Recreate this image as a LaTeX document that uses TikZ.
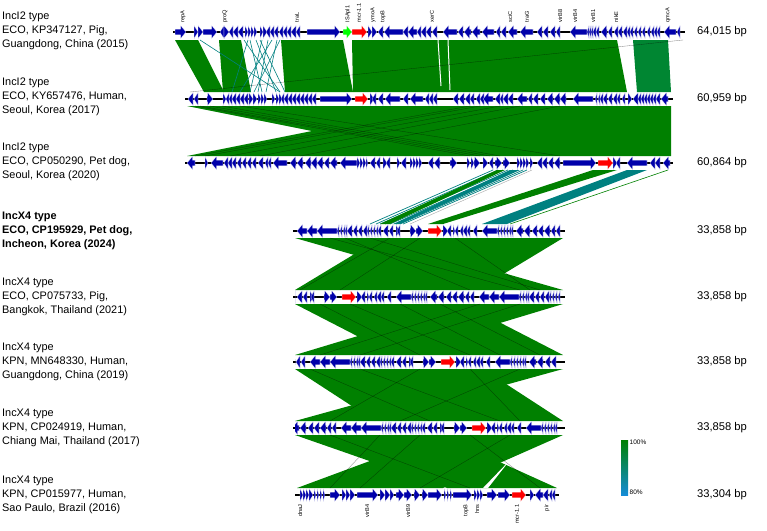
\documentclass[tikz,border=0pt]{standalone}
\usepackage{fontspec}
\setmainfont{Liberation Sans}
\usepackage{tikz}
\usetikzlibrary{positioning}
\definecolor{genecol}{RGB}{0,0,170}
\definecolor{mcrcol}{RGB}{255,0,0}
\definecolor{iscol}{RGB}{0,255,0}
\definecolor{hitgreen}{RGB}{0,128,0}
\definecolor{hitgreenb}{RGB}{0,134,50}
\definecolor{hitteal}{RGB}{0,128,128}
\definecolor{lowblue}{RGB}{20,140,215}

% one gene arrow: from, to, track y, colour
\newcommand{\gene}[4]{%
  \pgfmathsetmacro{\ghd}{sign((#2)-(#1))*min(5.5,abs((#2)-(#1)))}%
  \pgfmathsetmacro{\gnk}{(#2)-\ghd}%
  \fill[#4, draw=white, line width=0.15pt] (#1,#3-2.8) -- (\gnk,#3-2.8) -- (\gnk,#3-6.5)
    -- (#2,#3) -- (\gnk,#3+6.5) -- (\gnk,#3+2.8) -- (#1,#3+2.8) -- cycle;}

% IncX4 backbone, genes relative to the start of the track
\def\xfour{12/2, 22/12, 42/22, 44/42, 47/45, 50/48, 52/50, 57/52, 62/58, 67/63, 72/68,
  74/72, 77/75, 80/78, 83/81, 86/83, 93/88, 98/94, 101/104, 105/102, 115/121, 121/128,
  148/153, 156/152, 158/160, 163/160, 168/165, 172/168, 175/172, 182/178, 202/187,
  204/202, 207/205, 210/208, 213/211, 216/214, 218/216, 228/221, 235/229, 242/237,
  248/243, 255/249, 260/256, 265/261}

% IncX4 track: y, rotation
\newcommand{\xtrack}[2]{%
  \draw[backbone] (293,#1) -- (565,#1);
  \begin{scope}
    \clip (295,#1-8) rectangle (563,#1+8);
    \foreach \a/\b in \xfour {
      \pgfmathsetmacro{\sa}{mod(\a+#2,268)+295}
      \pgfmathsetmacro{\sb}{\sa+\b-\a}
      \pgfmathsetmacro{\sc}{\sa-268}
      \pgfmathsetmacro{\sd}{\sb-268}
      \gene{\sa}{\sb}{#1}{genecol}
      \gene{\sc}{\sd}{#1}{genecol}
    }
    \pgfmathsetmacro{\ra}{mod(133+#2,268)+295}
    \pgfmathsetmacro{\rb}{\ra+14}
    \gene{\ra}{\rb}{#1}{mcrcol}
  \end{scope}}

% rotated match between two IncX4 tracks: top y, bottom y, offset
\newcommand{\xhit}[3]{%
  \fill[hitgreen] (295,#1) -- ({563-#3},#1) -- (563,#2) -- ({295+#3},#2) -- cycle;
  \fill[hitgreen] ({563-#3},#1) -- (563,#1) -- ({295+#3},#2) -- (295,#2) -- cycle;}

\def\trackA{175/186, 194/198, 198/203, 203/217, 224/220, 224/229, 233/229, 238/233,
  243/238, 245/248, 248/251, 251/254, 254/257, 260/263, 263/267, 270/266, 274/270,
  278/274, 283/279, 287/283, 291/287, 296/291, 300/296, 307/340, 368/372, 372/377,
  383/378, 403/384, 408/403, 417/408, 421/417, 426/421, 431/426, 437/432, 457/443,
  463/458, 471/464, 480/472, 494/482, 500/496, 506/501, 517/508, 533/520, 542/537,
  548/543, 555/550, 560/556, 587/570, 589/587, 591/589, 593/591, 596/593, 599/596,
  607/601, 612/608, 618/614, 622/618, 627/623, 630/627, 633/630, 637/634, 641/638,
  645/642, 650/647, 654/651, 657/654, 660/657, 676/664, 680/677}
\def\trackB{193/188, 198/194, 207/213, 223/226, 229/226, 232/229, 236/232, 240/236,
  244/240, 248/244, 249/253, 253/257, 258/261, 261/264, 264/267, 272/275, 276/279,
  279/282, 284/281, 288/284, 292/288, 296/292, 300/296, 304/300, 308/304, 312/308,
  316/312, 320/352, 370/374, 376/372, 383/378, 400/385, 408/403, 423/410, 429/425,
  433/429, 437/433, 458/453, 464/459, 470/465, 474/470, 480/476, 484/480, 493/483,
  500/495, 503/500, 508/503, 513/508, 527/517, 532/528, 538/533, 545/540, 553/547,
  560/554, 566/560, 593/573, 597/595, 600/598, 603/600, 607/603, 612/608, 617/613,
  620/617, 625/622, 628/632, 638/633, 641/638, 644/641, 647/644, 650/647, 653/650,
  656/653, 660/656, 668/661}
\def\trackC{195/187, 205/208, 223/211, 228/224, 232/228, 236/232, 241/237, 246/242,
  251/247, 256/252, 263/258, 268/265, 271/268, 287/273, 296/290, 303/297, 311/305,
  317/311, 323/317, 329/324, 337/330, 357/340, 357/360, 360/363, 363/366, 366/368,
  375/370, 380/376, 383/387, 390/386, 397/400, 406/401, 410/413, 413/416, 416/419,
  419/422, 433/428, 440/434, 450/457, 467/470, 471/474, 474/480, 483/488, 493/489,
  495/502, 503/510, 517/520, 520/523, 523/526, 526/529, 530/533, 542/537, 547/542,
  553/548, 560/554, 563/596, 613/617, 620/616, 647/627, 655/650, 660/655, 670/663}
\def\trackH{300/303, 303/306, 306/309, 309/313, 314/316, 317/319, 320/322, 323/325,
  330/340, 342/346, 346/350, 350/355, 357/378, 380/385, 385/390, 390/394, 396/404,
  404/412, 414/420, 422/428, 428/442, 444/446, 447/449, 450/452, 453/472, 474/477,
  477/480, 480/483, 487/497, 498/510, 530/534, 543/535, 548/543, 552/549, 555/552}

\begin{document}
\begin{tikzpicture}[x=1pt, y=-1pt,
    strain/.style={anchor=west, align=left, inner sep=0pt,
                   font=\fontsize{10.9}{14}\selectfont},
    strainbold/.style={strain, font=\fontsize{10.9}{14}\selectfont\bfseries},
    size/.style={inner sep=0pt, font=\fontsize{11.2}{12}\selectfont},
    genelabel/.style={rotate=90, inner sep=0.6pt, font=\fontsize{5.6}{6}\selectfont},
    legendlabel/.style={anchor=west, inner sep=0.5pt, font=\fontsize{6.5}{7}\selectfont},
    backbone/.style={line width=1.3pt, black},
    darkline/.style={black, opacity=0.45, line width=0.35pt}
]
    \useasboundingbox (0,0) rectangle (767,530);

    % matches between neighbouring plasmids
    \fill[hitgreen] (175,40) -- (198,40) -- (224,92) -- (204,92) -- cycle;
    \fill[hitgreen] (219,40) -- (241,40) -- (251,92) -- (223,92) -- cycle;
    \fill[hitgreen] (281,40) -- (343,40) -- (353,92) -- (285,92) -- cycle;
    \fill[hitgreen] (352,40) -- (617,40) -- (627,92) -- (353,92) -- cycle;
    \fill[hitgreenb] (633,40) -- (668,40) -- (671,92) -- (637,92) -- cycle;
    \draw[white, line width=1pt] (438,40) -- (441,86);
    \draw[white, line width=1pt] (448,40) -- (450,90);
    \foreach \a/\b in {244/280, 250/262, 256/276, 262/250, 268/258, 272/240, 277/266,
                       280/254, 248/232, 260/285, 200/280}
        \draw[hitteal, line width=0.6pt] (\a,40) -- (\b,92);
    \draw[darkline] (683,40) -- (190,92);

    \fill[hitgreen] (187,106) -- (671,106) -- (671,156) -- (187,156) -- (312,131) -- cycle;
    \foreach \a/\b in {195/470, 200/480, 210/490, 222/500, 240/560, 480/205, 470/195,
                       500/230, 520/260, 560/300}
        \draw[darkline] (\a,106) -- (\b,156);

    \foreach \a/\b in {493/370, 498/376, 503/380, 508/385, 513/390, 518/396, 523/400, 527/403}
        \draw[hitteal, line width=0.7pt] (\a,170) -- (\b,224);
    \fill[hitgreen] (497,170) -- (505,170) -- (390,224) -- (380,224) -- cycle;
    \fill[hitteal] (510,170) -- (520,170) -- (400,224) -- (393,224) -- cycle;
    \draw[black!35, line width=0.4pt] (532,170) -- (410,224);
    \fill[hitgreen] (593,170) -- (617,170) -- (443,224) -- (428,224) -- cycle;
    \fill[hitteal] (627,170) -- (647,170) -- (507,224) -- (482,224) -- cycle;
    \draw[hitgreen, line width=0.6pt] (668,170) -- (510,224);

    \xhit{238}{290}{182}
    \foreach \a/\b in {330/520, 345/470, 390/300, 420/340, 455/530, 370/540}
        \draw[darkline] (\a,238) -- (\b,290);
    \xhit{304}{355}{99}
    \foreach \a/\b in {320/420, 350/470, 400/500, 480/320, 520/360, 440/540}
        \draw[darkline] (\a,304) -- (\b,355);
    \xhit{369}{421}{80}
    \foreach \a/\b in {310/430, 360/500, 420/330, 470/520, 520/400}
        \draw[darkline] (\a,369) -- (\b,421);
    \fill[hitgreen] (440,435) -- (563,435) -- (443,488) -- (297,488) -- cycle;
    \fill[hitgreen] (295,435) -- (440,435) -- (557,488) -- (447,488) -- cycle;
    \fill[white] (483,488) -- (488,488) -- (510,460) -- cycle;
    \foreach \a/\b in {380/330, 420/360, 330/470, 470/540, 510/420}
        \draw[darkline] (\a,435) -- (\b,488);

    % plasmid tracks
    \draw[backbone] (173,32) -- (685,32);
    \foreach \a/\b in \trackA \gene{\a}{\b}{32}{genecol};
    \gene{343}{352}{32}{iscol}
    \gene{352}{367}{32}{mcrcol}

    \draw[backbone] (185,99) -- (673,99);
    \foreach \a/\b in \trackB \gene{\a}{\b}{99}{genecol};
    \gene{355}{368}{99}{mcrcol}

    \draw[backbone] (185,163) -- (673,163);
    \foreach \a/\b in \trackC \gene{\a}{\b}{163}{genecol};
    \gene{598}{613}{163}{mcrcol}

    \xtrack{231}{0}
    \xtrack{297}{182}
    \xtrack{362}{13}
    \xtrack{428}{44}

    \draw[backbone] (295,495) -- (559,495);
    \foreach \a/\b in \trackH \gene{\a}{\b}{495}{genecol};
    \gene{512}{526}{495}{mcrcol}

    % gene names
    \foreach \x/\t [count=\i] in {183/repA, 225/proQ, 297/traL, 348/ISApl1, 359/mcr-1.1,
            373/ymoA, 383/topB, 432/xerC, 510/sciC, 527/traG, 560/virB8, 575/virB4,
            593/virB1, 616/nikE, 668/qmcA}
        \node[genelabel, anchor=west] (gt\i) at (\x,23) {\t};
    \foreach \x/\t [count=\i] in {300/dnaJ, 367/virB4, 408/virB9, 466/topB, 477/hns,
            517/mcr-1.1, 547/pir}
        \node[genelabel, anchor=east] (gb\i) at (\x,504) {\t};

    % strain labels
    \node[strain] (lab1) at (2,31) {IncI2 type\\ECO, KP347127, Pig,\\Guangdong, China (2015)};
    \node[strain] (lab2) at (2,97) {IncI2 type\\ECO, KY657476, Human,\\Seoul, Korea (2017)};
    \node[strain] (lab3) at (2,162) {IncI2 type\\ECO, CP050290, Pet dog,\\Seoul, Korea (2020)};
    \node[strainbold] (lab4) at (2,231) {IncX4 type\\ECO, CP195929, Pet dog,\\Incheon, Korea (2024)};
    \node[strain] (lab5) at (2,297) {IncX4 type\\ECO, CP075733, Pig,\\Bangkok, Thailand (2021)};
    \node[strain] (lab6) at (2,362) {IncX4 type\\KPN, MN648330, Human,\\Guangdong, China (2019)};
    \node[strain] (lab7) at (2,428) {IncX4 type\\KPN, CP024919, Human,\\Chiang Mai, Thailand (2017)};
    \node[strain] (lab8) at (2,495) {IncX4 type\\KPN, CP015977, Human,\\Sao Paulo, Brazil (2016)};

    % sizes
    \node[size] (bp1) at (722,32) {64,015 bp};
    \node[size] (bp2) at (722,99) {60,959 bp};
    \node[size] (bp3) at (722,163) {60,864 bp};
    \node[size] (bp4) at (722,231) {33,858 bp};
    \node[size] (bp5) at (722,297) {33,858 bp};
    \node[size] (bp6) at (722,362) {33,858 bp};
    \node[size] (bp7) at (722,428) {33,858 bp};
    \node[size] (bp8) at (722,495) {33,304 bp};

    % identity scale
    \shade[top color=hitgreen, bottom color=lowblue] (621,440) rectangle (628,495);
    \node[legendlabel] (top) at (629,442) {100\%};
    \node[legendlabel] (low) at (629,492) {80\%};
\end{tikzpicture}
\end{document}
